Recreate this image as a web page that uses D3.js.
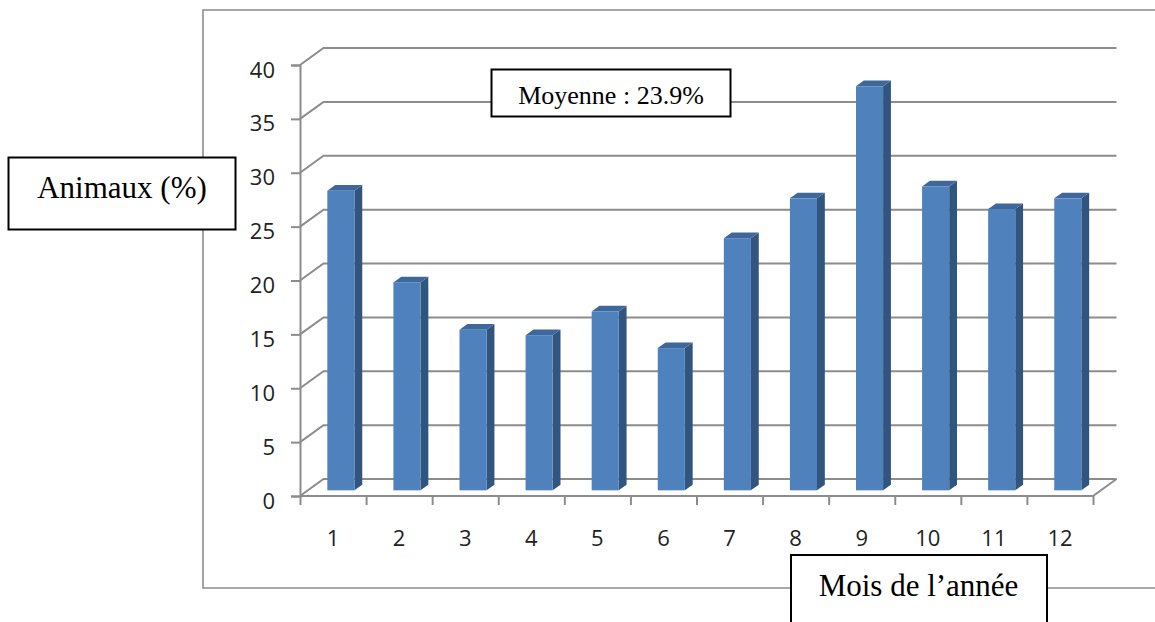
<!DOCTYPE html>
<html>
<head>
<meta charset="utf-8">
<script src="https://cdn.jsdelivr.net/npm/d3@7"></script>
<style>
  html, body { margin: 0; padding: 0; background: #fff; }
  svg { display: block; }
</style>
</head>
<body>
<svg id="chart" width="1155" height="622"></svg>
<script>
// Monthly share of animals (%)
const months = ["1", "2", "3", "4", "5", "6", "7", "8", "9", "10", "11", "12"];
const values = [27.8, 19.3, 14.9, 14.4, 16.6, 13.2, 23.4, 27.1, 37.5, 28.2, 26.1, 27.1];
const yTicks = [0, 5, 10, 15, 20, 25, 30, 35, 40];
const meanLabel = "Moyenne : 23.9%";
const yTitle = "Animaux (%)";
const xTitle = "Mois de l’année";

const svg = d3.select("#chart");

// Plot area (front plane) and 3-D depth of the floor/walls
const left = 300, right = 1093, floorY = 496, topY = 65;
const depthX = 23.5, depthY = -17;

const x = d3.scaleBand().domain(months).range([left, right]).padding(0);
const xEdges = d3.scaleLinear().domain([0, months.length]).range([left, right]);
const y = d3.scaleLinear().domain([0, 40]).range([floorY, topY]);

// point on a plane at depth fraction d (0 = front, 1 = back wall)
const px = (xv, d) => xv + d * depthX;
const py = (v, d) => y(v) + d * depthY;

const gridColor = "#8c8c8c";
const frameColor = "#8c8c8c";
const tickFont = "'Open Sans', Lato, sans-serif";

// Outer chart frame
svg.append("path")
  .attr("d", `M1160,10 H203 V588 H1160`)
  .attr("fill", "none").attr("stroke", frameColor).attr("stroke-width", 1.6);

// Back-wall gridlines with their left-wall diagonals
const grid = svg.append("g").attr("fill", "none").attr("stroke", gridColor).attr("stroke-width", 2);
yTicks.forEach(v => {
  grid.append("path")
    .attr("d", `M${px(left, 0)},${py(v, 0)} L${px(left, 1)},${py(v, 1)} H${px(right, 1)}`);
});
// Floor: front edge and right diagonal
grid.append("path")
  .attr("d", `M${px(left, 0)},${py(0, 0)} H${px(right, 0)} L${px(right, 1)},${py(0, 1)}`);

// Vertical axis (front-left edge) with ticks and labels
const yAxis = d3.axisLeft(y).tickValues(yTicks).tickSize(9).tickPadding(16).tickFormat(d3.format("d"));
const gy = svg.append("g").attr("transform", `translate(${left},0)`).call(yAxis);
gy.select(".domain").attr("stroke", gridColor).attr("stroke-width", 2);
gy.selectAll(".tick line").attr("stroke", gridColor).attr("stroke-width", 2);
gy.selectAll(".tick text")
  .attr("font-family", tickFont).attr("font-size", 22)
  .attr("fill", "#222").attr("dy", "0.55em");

// Category separators under the floor
const xTickAxis = d3.axisBottom(xEdges).tickValues(d3.range(months.length + 1)).tickSize(9).tickFormat("");
const gxt = svg.append("g").attr("transform", `translate(0,${floorY})`).call(xTickAxis);
gxt.select(".domain").remove();
gxt.selectAll(".tick line").attr("stroke", gridColor).attr("stroke-width", 2);

// Month labels
const xAxis = d3.axisBottom(x).tickSize(0).tickPadding(34);
const gx = svg.append("g").attr("transform", `translate(0,${floorY})`).call(xAxis);
gx.select(".domain").remove();
gx.selectAll(".tick text")
  .attr("font-family", tickFont).attr("font-size", 22)
  .attr("fill", "#222");

// 3-D bars: front face, top and right side
const barW = x.bandwidth() * 0.41;
const dFront = 1 / 3, dBack = 2 / 3;
const bars = svg.append("g").selectAll("g").data(values).join("g");

bars.each(function (v, i) {
  const g = d3.select(this);
  const cx = x(months[i]) + x.bandwidth() / 2;
  const x0 = px(cx - barW / 2, dFront), x1 = px(cx + barW / 2, dFront);
  const bx0 = px(cx - barW / 2, dBack), bx1 = px(cx + barW / 2, dBack);
  const yTopF = py(v, dFront), yBotF = py(0, dFront);
  const yTopB = py(v, dBack), yBotB = py(0, dBack);
  // right side
  g.append("path")
    .attr("d", `M${x1},${yTopF} L${bx1},${yTopB} L${bx1},${yBotB} L${x1},${yBotF} Z`)
    .attr("fill", "#32557f");
  // top
  g.append("path")
    .attr("d", `M${x0},${yTopF} L${bx0},${yTopB} L${bx1},${yTopB} L${x1},${yTopF} Z`)
    .attr("fill", "#3e689b");
  // front
  g.append("rect")
    .attr("x", x0).attr("y", yTopF).attr("width", x1 - x0).attr("height", yBotF - yTopF)
    .attr("fill", "#4f81bd");
});

// Text boxes
function textBox(bx, by, bw, bh, label, fontSize, tx, ty) {
  svg.append("rect")
    .attr("x", bx).attr("y", by).attr("width", bw).attr("height", bh)
    .attr("fill", "#fff").attr("stroke", "#000").attr("stroke-width", 2);
  svg.append("text")
    .attr("x", tx).attr("y", ty).attr("text-anchor", "middle")
    .attr("font-family", "'Liberation Serif', 'Times New Roman', serif")
    .attr("font-size", fontSize).attr("fill", "#000")
    .text(label);
}

textBox(491.5, 69.5, 239, 47, meanLabel, 26, 611, 104);
textBox(8.5, 157.5, 227, 72, yTitle, 31, 122, 198);
textBox(791, 555, 256, 80, xTitle, 31, 918.5, 596);
</script>
</body>
</html>
